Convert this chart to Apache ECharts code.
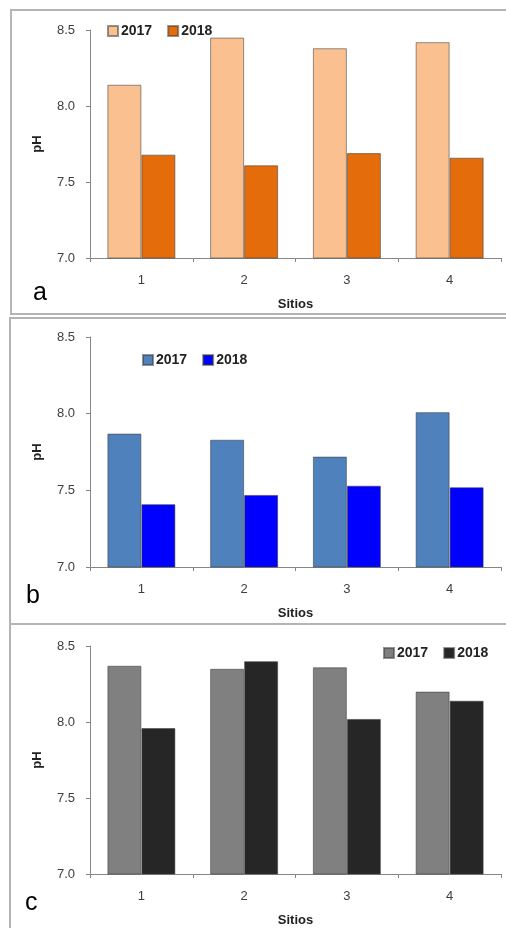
<!DOCTYPE html>
<html>
<head>
<meta charset="utf-8">
<script src="https://cdn.jsdelivr.net/npm/echarts@6/dist/echarts.min.js"></script>
<style>
html,body{margin:0;padding:0;background:#fff;}
#chart{width:506px;height:928px;}
</style>
</head>
<body>
<div id="chart"></div>
<script>
const categories = ['1', '2', '3', '4'];
const years = ['2017', '2018'];
const yTicks = [7.0, 7.5, 8.0, 8.5];
const a2017 = [8.14, 8.45, 8.38, 8.42];
const a2018 = [7.68, 7.61, 7.69, 7.66];
const b2017 = [7.87, 7.83, 7.72, 8.01];
const b2018 = [7.41, 7.47, 7.53, 7.52];
const c2017 = [8.37, 8.35, 8.36, 8.20];
const c2018 = [7.96, 8.40, 8.02, 8.14];
const panelLetters = ['a', 'b', 'c'];

const panels = [
  {d: [a2017, a2018], colors: ['#FAC090', '#E46C0A'], grid: {top: 30, height: 228}, legend: {left: 107, top: 24}, letter: [33, 293]},
  {d: [b2017, b2018], colors: ['#4F81BD', '#0000FF'], grid: {top: 337, height: 230}, legend: {left: 142, top: 353}, letter: [26, 596]},
  {d: [c2017, c2018], colors: ['#808080', '#262626'], grid: {top: 646, height: 229}, legend: {left: 383, top: 646}, letter: [25, 903]}
];

const font = 'Liberation Sans, Arial, sans-serif';
const grids = [], xAxes = [], yAxes = [], series = [], legends = [], graphics = [];

// frames
graphics.push({type: 'rect', shape: {x: 11, y: 10, width: 520, height: 304}, style: {fill: 'none', stroke: '#b4b4b4', lineWidth: 2}, silent: true});
graphics.push({type: 'rect', shape: {x: 10, y: 318, width: 520, height: 306}, style: {fill: 'none', stroke: '#b4b4b4', lineWidth: 2}, silent: true});
graphics.push({type: 'rect', shape: {x: 10, y: 624, width: 520, height: 320}, style: {fill: 'none', stroke: '#b4b4b4', lineWidth: 2}, silent: true});

panels.forEach((p, i) => {
  grids.push({left: 90, width: 411, top: p.grid.top, height: p.grid.height});
  xAxes.push({
    type: 'category', gridIndex: i, data: categories,
    name: 'Sitios', nameLocation: 'middle', nameGap: 40,
    nameTextStyle: {fontFamily: font, fontWeight: 'bold', fontSize: 13, color: '#222'},
    axisLine: {lineStyle: {color: '#868686', width: 1}},
    axisTick: {show: true, length: 4, lineStyle: {color: '#868686'}},
    axisLabel: {fontFamily: font, fontSize: 13, color: '#404040', margin: 16}
  });
  yAxes.push({
    type: 'value', gridIndex: i, min: yTicks[0], max: yTicks[yTicks.length - 1], interval: 0.5,
    name: 'pH', nameLocation: 'middle', nameGap: 46, nameRotate: 90,
    nameTextStyle: {fontFamily: font, fontWeight: 'bold', fontSize: 13, color: '#222'},
    axisLine: {show: true, lineStyle: {color: '#868686', width: 1}},
    axisTick: {show: true, length: 4, lineStyle: {color: '#868686'}},
    splitLine: {show: false},
    axisLabel: {fontFamily: font, fontSize: 13, color: '#404040', margin: 15, formatter: v => v.toFixed(1)}
  });
  const names = [];
  years.forEach((y, k) => {
    const nm = panelLetters[i] + y;
    names.push(nm);
    series.push({
      type: 'bar', name: nm, xAxisIndex: i, yAxisIndex: i, data: p.d[k],
      barWidth: 34, barGap: '0%',
      itemStyle: {color: p.colors[k], borderColor: 'rgba(60,60,60,0.55)', borderWidth: 1}
    });
  });
  legends.push({
    data: names, left: p.legend.left, top: p.legend.top, orient: 'horizontal', padding: 0,
    icon: 'rect', itemWidth: 10, itemHeight: 10, itemGap: 15,
    selectedMode: false,
    formatter: n => n.slice(1),
    textStyle: {fontFamily: font, fontWeight: 'bold', fontSize: 14, color: '#222', padding: [0, 0, 0, -2]}
  });
  graphics.push({
    type: 'text', x: p.letter[0], y: p.letter[1], silent: true,
    style: {text: panelLetters[i], font: '25px ' + font, fill: '#000', textVerticalAlign: 'middle'}
  });
});

const chart = echarts.init(document.getElementById('chart'), null, {renderer: 'canvas'});
chart.setOption({
  animation: false,
  backgroundColor: '#fff',
  grid: grids, xAxis: xAxes, yAxis: yAxes, series: series, legend: legends,
  graphic: graphics
});
</script>
</body>
</html>
